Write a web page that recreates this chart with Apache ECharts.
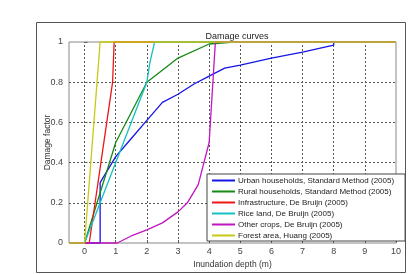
<!DOCTYPE html>
<html>
<head>
<meta charset="utf-8">
<script src="https://cdn.jsdelivr.net/npm/echarts@6/dist/echarts.min.js"></script>
<style>
html, body { margin: 0; padding: 0; background: #fff; }
#chart { width: 409px; height: 274px; }
</style>
</head>
<body>
<div id="chart"></div>
<script>
// depth (m) and damage factor for each curve
var urbanX = [-0.5, 0.5, 0.5, 1, 1.5, 2, 2.5, 3, 3.5, 4, 4.5, 5, 6, 7, 8, 8, 10];
var urbanY = [0, 0, 0.3, 0.43, 0.52, 0.61, 0.7, 0.74, 0.79, 0.83, 0.87, 0.885, 0.92, 0.95, 0.985, 1, 1];
var ruralX = [-0.5, 0, 1, 2, 3, 4, 4.8, 10];
var ruralY = [0, 0, 0.5, 0.8, 0.92, 0.99, 1, 1];
var infraX = [-0.5, 0.15, 0.9, 0.95, 10];
var infraY = [0, 0, 0.8, 1, 1];
var riceX = [-0.5, 0, 1, 2, 2.1, 2.25, 10];
var riceY = [0, 0, 0.4, 0.8, 0.9, 1, 1];
var cropsX = [-0.5, 1.05, 1.5, 2, 2.5, 3, 3.3, 3.65, 4, 4.2, 10];
var cropsY = [0, 0, 0.035, 0.065, 0.1, 0.155, 0.2, 0.29, 0.5, 1, 1];
var forestX = [-0.5, 0, 0.5, 10];
var forestY = [0, 0, 1, 1];

var names = [
    'Urban households, Standard Method (2005)',
    'Rural households, Standard Method (2005)',
    'Infrastructure, De Bruijn (2005)',
    'Rice land, De Bruijn (2005)',
    'Other crops, De Bruijn (2005)',
    'Forest area, Huang (2005)'
];
var colors = ['#1515e6', '#158a15', '#ee1515', '#15c0c0', '#c015c0', '#c8c815'];
var xTicks = [0, 1, 2, 3, 4, 5, 6, 7, 8, 9, 10];
var xGrid = [0, 1, 2, 3, 4, 5, 6, 7, 8, 9];

function pairs(xs, ys) {
    return xs.map(function (x, i) { return [x, ys[i]]; });
}
var curves = [
    pairs(urbanX, urbanY), pairs(ruralX, ruralY), pairs(infraX, infraY),
    pairs(riceX, riceY), pairs(cropsX, cropsY), pairs(forestX, forestY)
];

var chart = echarts.init(document.getElementById('chart'));
var font = 'Liberation Sans';
var dotted = { color: '#555', type: [2, 2], width: 1 };

var series = [{
    // vertical dotted grid lines
    type: 'line', data: [], silent: true, z: 1,
    markLine: {
        z: 1,
        silent: true, symbol: 'none', label: { show: false },
        lineStyle: dotted, emphasis: { disabled: true },
        data: xGrid.map(function (v) { return { xAxis: v }; })
    }
}];
curves.forEach(function (d, i) {
    series.push({
        name: names[i], type: 'line', data: d, z: 3,
        showSymbol: false, clip: false,
        color: colors[i],
        lineStyle: { width: 1.3, color: colors[i] }
    });
});

var option = {
    animation: false,
    backgroundColor: '#fff',
    title: {
        text: 'Damage curves',
        left: 232, top: 27, textAlign: 'center',
        textStyle: { fontFamily: font, fontSize: 9, fontWeight: 'normal', color: '#222' }
    },
    grid: {
        left: 69, top: 42, right: 13, bottom: 29,
        show: true, borderColor: '#888', borderWidth: 1
    },
    legend: {
        orient: 'vertical',
        left: 207, top: 174, z: 10,
        width: 170,
        padding: [1, 11, 0, 5],
        backgroundColor: '#fff',
        borderColor: '#444', borderWidth: 1,
        itemWidth: 23, itemHeight: 2, itemGap: 0,
        icon: 'rect',
        textStyle: { fontFamily: font, fontSize: 8, color: '#222', lineHeight: 11, padding: [0, 0, 0, -2] },
        data: names
    },
    xAxis: {
        type: 'value', min: -0.5, max: 10,
        name: 'Inundation depth (m)', nameLocation: 'middle', nameGap: 17, nameMoveOverlap: false,
        nameTextStyle: { fontFamily: font, fontSize: 8.5, color: '#333' },
        axisLine: { show: false },
        axisTick: { show: true, inside: true, length: 3, customValues: xTicks, lineStyle: { color: '#666' } },
        axisLabel: { customValues: xTicks, fontFamily: font, fontSize: 9, color: '#444', margin: 4 },
        splitLine: { show: false }
    },
    yAxis: {
        type: 'value', min: 0, max: 1, interval: 0.2,
        name: 'Damage factor', nameLocation: 'middle', nameGap: 17, nameRotate: 90, nameMoveOverlap: false,
        nameTextStyle: { fontFamily: font, fontSize: 8.5, color: '#333' },
        axisLine: { show: false },
        axisTick: { show: true, inside: true, length: 3, lineStyle: { color: '#666' } },
        axisLabel: { fontFamily: font, fontSize: 9, color: '#444', margin: 6 },
        splitLine: { show: true, showMinLine: false, showMaxLine: false, lineStyle: dotted }
    },
    graphic: [{
        type: 'rect', silent: true, z: -1,
        shape: { x: 36.5, y: 22.5, width: 369, height: 250 },
        style: { fill: 'none', stroke: '#555', lineWidth: 1 }
    }],
    series: series
};
chart.setOption(option);
</script>
</body>
</html>
